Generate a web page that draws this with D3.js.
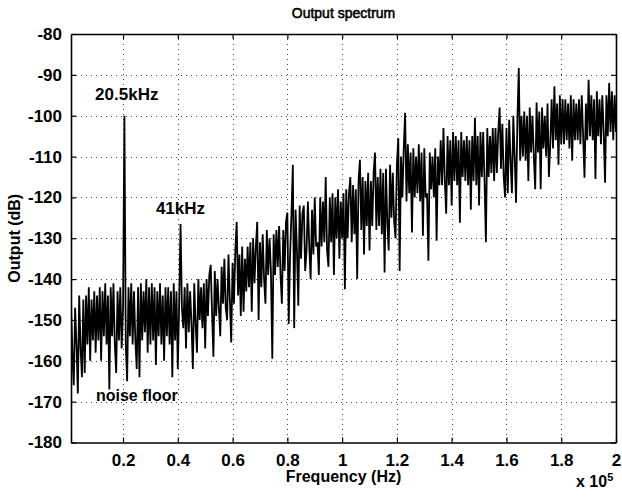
<!DOCTYPE html>
<html><head><meta charset="utf-8">
<script src="https://cdn.jsdelivr.net/npm/d3@7"></script>
<style>body{margin:0;background:#fff}svg{display:block}</style>
</head><body><svg id="chart" width="622" height="497"></svg>
<script>
// ---- data ----
const freqStartHz = 1000;
const freqStepHz = 500;
const outputDb = [
  -146,-158,-166,-147,-156,-168,-144,-157,-164,-145,
  -163,-144,-156,-142,-160,-145,-155,-143,-158,-144,
  -155,-142,-160,-143,-154,-141,-156,-144,-167,-142,
  -154,-141,-156,-163,-143,-155,-142,-157,-147,-100,
  -156,-165,-142,-154,-141,-156,-143,-155,-162,-142,
  -164,-141,-155,-143,-153,-140,-158,-142,-156,-141,
  -155,-142,-161,-143,-154,-141,-156,-144,-160,-142,
  -154,-142,-156,-143,-164,-141,-155,-143,-162,-146,
  -126.5,-147,-152,-142,-157,-141,-153,-143,-151,-162,
  -141,-151,-158,-140,-150,-142,-152,-141,-157,-140,
  -149,-139,-136.5,-148,-159,-138,-149,-140,-147,-154,
  -137,-146,-135,-147,-150,-134,-145,-155.5,-136,-146,
  -133,-126,-144,-134,-149,-132,-148,-135,-143,-132,
  -142,-131,-148,-130,-141,-132,-126,-150,-131,-142,
  -129,-140,-146,-128,-139,-130,-138,-159.5,-129,-139,
  -128,-137,-127,-139,-146,-128,-138,-126,-123.7,-151,
  -134,-124,-112,-152,-123,-133,-146.5,-122,-135,-124,
  -122,-138,-133,-121,-132,-140,-123,-134,-120,-132,
  -131,-139,-120,-132,-121,-131,-115,-133,-137,-120,
  -131,-119,-139,-120,-130,-118,-135,-121,-130,-119,
  -142.5,-118,-130,-119,-115,-131,-117,-129,-118,-140,
  -116,-110.8,-128,-115,-134,-116,-127,-114,-133,-116,
  -127,-114,-109,-128,-115,-127,-113,-129,-114,-138.4,
  -113,-126,-133,-112,-125,-114,-126,-130,-112,-105.5,
  -138,-110,-120,-108,-99.3,-121,-107,-119,-109,-128.6,
  -108,-120,-110,-119,-107,-121,-109,-129.4,-108,-120,
  -119,-135.5,-109,-118,-110,-120,-108,-130.6,-110,-117,
  -106,-117,-103,-116,-124,-105,-117,-106,-122,-104,
  -116,-105,-117,-106,-126.2,-104,-115,-106,-116,-105,
  -117,-106,-123,-105,-116,-100.5,-117,-105,-122,-104,
  -115,-104,-116,-131,-103,-115,-105,-114,-103,-116,
  -103,-114,-104,-98,-113,-102,-115,-120,-103,-119,
  -101,-111,-119,-100,-110,-121.3,-101,-88.3,-111,-100,
  -110,-99,-111,-100,-116,-98,-109,-100,-110,-118,
  -96.8,-109,-99,-118,-98,-108,-100,-110,-97,-115,
  -107,-96,-108,-92.8,-106,-97,-112,-95,-107,-96,
  -107,-96,-106,-97,-108,-95,-111,-96,-106,-97,
  -106,-96,-107,-95,-105,-115.2,-97,-106,-91.2,-105,
  -95,-106,-96,-115.5,-94,-105,-96,-107,-95,-104,
  -116.4,-95,-105,-92,-104,-94,-106,-95,-104,-96
];
const xTickValues = [20000,40000,60000,80000,100000,120000,140000,160000,180000,200000];
const xTickLabels = ["0.2","0.4","0.6","0.8","1","1.2","1.4","1.6","1.8","2"];
const yTickValues = [-180,-170,-160,-150,-140,-130,-120,-110,-100,-90,-80];
const annotationTexts = ["20.5kHz","41kHz","noise floor"];

// ---- drawing ----
const W = 622, H = 497;
const L = 71, R = 616, T = 34, B = 442.5;
const FONT = "'Liberation Sans', Arial, Helvetica, sans-serif";
const svg = d3.select("#chart");
svg.append("rect").attr("width", W).attr("height", H).attr("fill", "#fff");

const x = d3.scaleLinear().domain([1000, 200000]).range([L, R]);
const y = d3.scaleLinear().domain([-180, -80]).range([B, T]);

// grid
const grid = svg.append("g").attr("stroke", "#444").attr("stroke-width", 1).attr("stroke-dasharray", "1,4");
grid.selectAll("line.v").data(xTickValues.filter(v => v < 200000)).enter().append("line")
  .attr("x1", d => Math.round(x(d)) + 0.5).attr("x2", d => Math.round(x(d)) + 0.5)
  .attr("y1", T).attr("y2", B);
grid.selectAll("line.h").data(yTickValues.filter(v => v > -180 && v < -80)).enter().append("line")
  .attr("y1", d => Math.round(y(d)) + 0.5).attr("y2", d => Math.round(y(d)) + 0.5)
  .attr("x1", L).attr("x2", R);

// spectrum
svg.append("clipPath").attr("id", "clip").append("rect")
  .attr("x", L).attr("y", T).attr("width", R - L).attr("height", B - T);
const line = d3.line()
  .x((d, i) => x(freqStartHz + i * freqStepHz))
  .y(d => y(d));
svg.append("path").datum(outputDb)
  .attr("clip-path", "url(#clip)")
  .attr("fill", "none").attr("stroke", "#000").attr("stroke-width", 1.8)
  .attr("stroke-linejoin", "miter").attr("stroke-miterlimit", 1.5)
  .attr("d", line);

// axes (box with inward ticks on all sides)
const axB = d3.axisBottom(x).tickValues(xTickValues).tickSizeInner(-5).tickSizeOuter(0)
  .tickFormat((d, i) => xTickLabels[i]).tickPadding(11);
const axT = d3.axisTop(x).tickValues(xTickValues).tickSizeInner(-5).tickSizeOuter(0).tickFormat("");
const axL = d3.axisLeft(y).tickValues(yTickValues).tickSizeInner(-5).tickSizeOuter(0)
  .tickFormat(d => String(d)).tickPadding(9);
const axR = d3.axisRight(y).tickValues(yTickValues).tickSizeInner(-5).tickSizeOuter(0).tickFormat("");

function style(g) {
  g.select(".domain").attr("stroke", "#000").attr("stroke-width", 1.6);
  g.selectAll(".tick line").attr("stroke", "#000").attr("stroke-width", 1.2);
  g.selectAll("text").attr("fill", "#000").style("font-family", FONT)
    .style("font-size", "17px").style("font-weight", "bold");
}
svg.append("g").attr("transform", `translate(0,${B})`).call(axB).call(style);
svg.append("g").attr("transform", `translate(0,${T})`).call(axT).call(style);
svg.append("g").attr("transform", `translate(${L},0)`).call(axL).call(style);
svg.append("g").attr("transform", `translate(${R},0)`).call(axR).call(style);

// titles
const txt = (s, xx, yy, opts = {}) => svg.append("text").text(s)
  .attr("x", xx).attr("y", yy).attr("fill", "#000")
  .attr("text-anchor", opts.anchor || "start")
  .style("font-family", FONT).style("font-size", (opts.size || 17) + "px")
  .style("font-weight", opts.weight || "bold")
  .attr("transform", opts.rotate ? `rotate(-90,${xx},${yy})` : null);

txt("Output spectrum", (L + R) / 2, 18, { anchor: "middle", size: 14, weight: "normal" })
  .attr("stroke", "#000").attr("stroke-width", 0.55);
txt("Frequency (Hz)", (L + R) / 2, 482, { anchor: "middle", size: 16 });
txt("Output (dB)", 20, (T + B) / 2, { anchor: "middle", size: 16, rotate: true });

const xe = svg.append("text").attr("x", 576).attr("y", 487).attr("fill", "#000")
  .style("font-family", FONT).style("font-size", "16px").style("font-weight", "bold");
xe.append("tspan").text("x 10");
xe.append("tspan").text("5").attr("dy", -6).style("font-size", "11px");

// annotations
txt(annotationTexts[0], x(9800), y(-96.2));
txt(annotationTexts[1], x(32000), y(-124.1));
txt(annotationTexts[2], x(10100), y(-169.8), { size: 16 });
</script>
</body></html>
